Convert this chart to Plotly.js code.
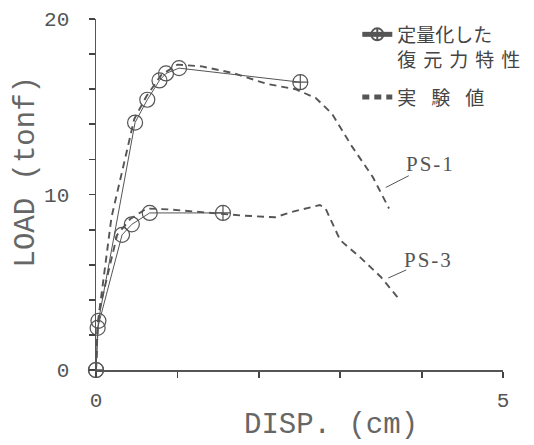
<!DOCTYPE html>
<html>
<head>
<meta charset="utf-8">
<script src="https://cdn.plot.ly/plotly-3.0.1.min.js"></script>
<style>
  html, body { margin: 0; padding: 0; background: #fff; }
  #chart { width: 534px; height: 445px; }
</style>
</head>
<body>
<div id="chart"></div>
<script>
// ---- data ----
const ps1ModelDisp = [0, 0.03, 0.48, 0.63, 0.78, 0.86, 1.02, 2.51];
const ps1ModelLoad = [0, 2.8, 14.1, 15.4, 16.5, 16.9, 17.2, 16.4];
const ps3ModelDisp = [0, 0.02, 0.32, 0.44, 0.66, 1.56];
const ps3ModelLoad = [0, 2.4, 7.7, 8.3, 8.95, 8.95];

const ps1ExpDisp = [0, 0.02, 0.19, 0.47, 0.62, 0.8, 1.0, 1.3, 1.7, 2.1, 2.45, 2.7, 2.9, 3.15, 3.4, 3.6];
const ps1ExpLoad = [0, 2.6, 8.7, 14.3, 15.6, 16.8, 17.4, 17.3, 16.9, 16.3, 16.0, 15.5, 14.6, 12.7, 11.0, 9.2];
const ps3ExpDisp = [0, 0.02, 0.05, 0.26, 0.42, 0.62, 0.9, 1.3, 1.56, 1.8, 2.2, 2.4, 2.75, 2.82, 3.0, 3.25, 3.5, 3.73];
const ps3ExpLoad = [0, 2.4, 3.6, 7.7, 8.6, 9.2, 9.15, 9.0, 8.9, 8.8, 8.7, 9.0, 9.4, 9.2, 7.4, 6.4, 5.3, 4.0];

const xTickVals = [0, 1, 2, 3, 4, 5];
const xTickText = ['0', '', '', '', '', '5'];
const yTickVals = [0, 2, 4, 6, 8, 10, 12, 14, 16, 18, 20];
const yTickText = ['0', '', '', '', '', '10', '', '', '', '', '20'];

const legendModel = '定量化した<br>復元力特性';
const legendExp = '実験値';
const xTitle = 'DISP. (cm)';
const yTitle = 'LOAD (tonf)';
const label1 = 'PS-1';
const label3 = 'PS-3';
// --------------------------------------

const ink = '#555';
const symFor = arr => arr.map((v, i) => (i === 0 || i === arr.length - 1) ? 'circle-cross-open' : 'circle-open');

const modelStyle = (xs) => ({
  mode: 'lines+markers',
  line: { color: ink, width: 1.0 },
  marker: { symbol: symFor(xs), size: 15, color: ink, line: { color: ink, width: 1.2 } },
  cliponaxis: false,
  legendgroup: 'model'
});
const expStyle = {
  mode: 'lines',
  line: { color: ink, width: 1.9, dash: '7px,5px' },
  cliponaxis: false,
  legendgroup: 'exp'
};

const traces = [
  Object.assign({ x: ps1ExpDisp, y: ps1ExpLoad, name: legendExp, showlegend: true }, expStyle),
  Object.assign({ x: ps3ExpDisp, y: ps3ExpLoad, name: legendExp, showlegend: false }, expStyle),
  Object.assign({ x: ps1ModelDisp, y: ps1ModelLoad, name: legendModel, showlegend: true }, modelStyle(ps1ModelDisp)),
  Object.assign({ x: ps3ModelDisp, y: ps3ModelLoad, name: legendModel, showlegend: false }, modelStyle(ps3ModelDisp))
];

const tickFont = { family: 'Liberation Mono, monospace', size: 21, color: ink };
const titleFont = { family: 'Liberation Mono, monospace', size: 29, color: '#666' };
const baseX = {
  range: [0, 5], tickmode: 'array', tickvals: xTickVals, showgrid: false, zeroline: false,
  showline: true, linecolor: ink, linewidth: 1.5, tickcolor: '#444', tickwidth: 1.8, ticklen: 6, ticks: 'outside'
};
const baseY = {
  range: [0, 20], tickmode: 'array', tickvals: yTickVals, showgrid: false, zeroline: false,
  showline: true, linecolor: ink, linewidth: 1.5, tickcolor: '#444', tickwidth: 1.8, ticklen: 6, ticks: 'outside'
};

const layout = {
  width: 534, height: 445,
  margin: { l: 96, r: 31, t: 19, b: 75 },
  paper_bgcolor: '#fff', plot_bgcolor: '#fff',
  showlegend: true,
  xaxis: Object.assign({}, baseX, { ticktext: xTickText, tickfont: tickFont, ticklabelstandoff: 4 }),
  // second x axis drawn on the same line, its ticks pointing up into the plot
  xaxis2: Object.assign({}, baseX, { overlaying: 'x', anchor: 'free', position: 0, side: 'top', showticklabels: false }),
  yaxis: Object.assign({}, baseY, { ticktext: yTickText, tickfont: tickFont, ticklabelstandoff: 15 }),
  // second y axis on the same line, its ticks pointing right into the plot
  yaxis2: Object.assign({}, baseY, { overlaying: 'y', anchor: 'free', position: 0, side: 'right', showticklabels: false }),
  legend: {
    x: 0.642, xanchor: 'left', y: 1.01, yanchor: 'top', valign: 'top',
    bgcolor: 'rgba(0,0,0,0)', tracegroupgap: 8, itemsizing: 'constant',
    traceorder: 'reversed',
    font: { family: 'Noto Sans CJK JP', size: 19, color: '#444' }
  },
  annotations: [
    { xref: 'paper', yref: 'paper', x: 0.577, y: -0.157, xanchor: 'center', yanchor: 'middle',
      text: xTitle, showarrow: false, font: titleFont },
    { xref: 'paper', yref: 'paper', x: -0.170, y: 0.565, xanchor: 'center', yanchor: 'middle',
      text: yTitle, showarrow: false, textangle: -90, font: titleFont },
    { x: 3.56, y: 10.4, xref: 'x', yref: 'y', text: label1, showarrow: true, arrowhead: 0, arrowwidth: 1,
      arrowcolor: ink, ax: 45, ay: -23, standoff: 0,
      font: { family: 'Liberation Serif, serif', size: 21, color: ink } },
    { x: 3.59, y: 5.24, xref: 'x', yref: 'y', text: label3, showarrow: true, arrowhead: 0, arrowwidth: 1,
      arrowcolor: ink, ax: 40, ay: -18, standoff: 0,
      font: { family: 'Liberation Serif, serif', size: 21, color: ink } }
  ]
};

Plotly.newPlot('chart', traces, layout, { staticPlot: true }).then(gd => {
  // let the spaced-out legend lines run past the measured legend box
  gd.querySelectorAll('.legend [clip-path]').forEach(el => el.removeAttribute('clip-path'));
  gd.querySelectorAll('.legendtext').forEach(t => {
    if (t.textContent.indexOf('実験値') >= 0) {
      t.style.letterSpacing = '15px';
      // push the second legend entry down to match the reference spacing
      const g = t.closest('g.traces');
      const r = t.getBoundingClientRect();
      const want = 96 - (r.top + r.height / 2);
      const m = /translate\(([-\d.]+),\s*([-\d.]+)\)/.exec(g.getAttribute('transform') || '');
      if (m) g.setAttribute('transform', 'translate(' + m[1] + ',' + (parseFloat(m[2]) + want) + ')');
    } else {
      const lines = t.querySelectorAll('tspan.line');
      if (lines.length > 1) {
        lines[1].style.letterSpacing = '7px';
        const r1 = lines[0].getBoundingClientRect(), r2 = lines[1].getBoundingClientRect();
        const delta = 25 - (r2.top - r1.top);
        if (lines[1].hasAttribute('y')) {
          lines[1].setAttribute('y', parseFloat(lines[1].getAttribute('y')) + delta);
        } else {
          const dy = lines[1].getAttribute('dy') || '0';
          const cur = dy.indexOf('em') > 0 ? parseFloat(dy) * 19 : parseFloat(dy);
          lines[1].setAttribute('dy', (cur + delta) + 'px');
        }
      }
    }
  });
  gd.querySelectorAll('.annotation-text').forEach(t => {
    if (t.textContent.indexOf('PS') === 0) t.style.letterSpacing = '2px';
  });
});
</script>
</body>
</html>
